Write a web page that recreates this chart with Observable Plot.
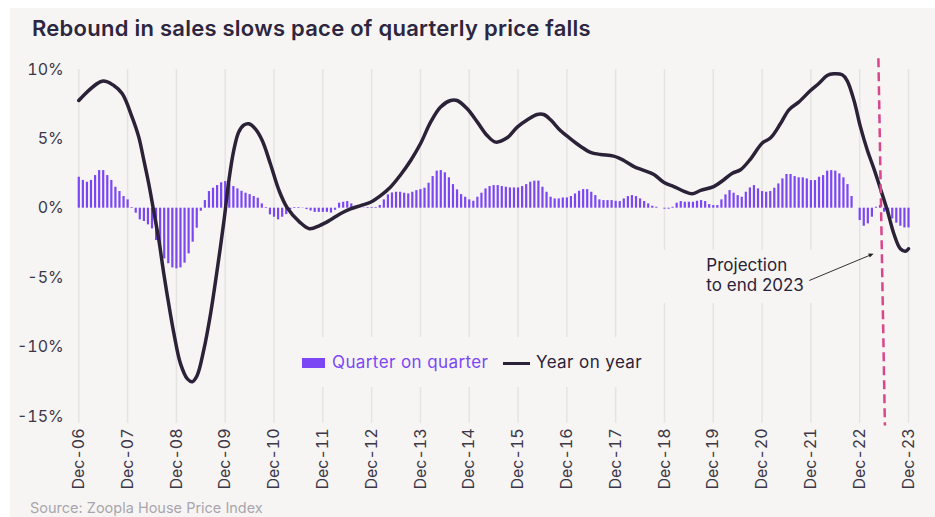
<!DOCTYPE html>
<html><head><meta charset="utf-8">
<script src="https://cdn.jsdelivr.net/npm/d3@7"></script>
<script src="https://cdn.jsdelivr.net/npm/@observablehq/plot@0.6"></script>
<style>
body{margin:0;background:#fff;width:935px;height:517px;overflow:hidden;position:relative;font-family:Inter,"Noto Sans",sans-serif;}
#panel{position:absolute;left:10px;top:8px;width:925px;height:509px;background:#f6f5f4;}
#title{position:absolute;left:32px;top:15px;font-size:22px;font-weight:600;color:#2d2640;white-space:nowrap;letter-spacing:0.25px;}
#chart{position:absolute;left:0;top:50px;}
#legend{position:absolute;left:292px;top:337px;width:360px;height:50px;background:#f6f5f4;font-size:17px;letter-spacing:0.4px;}
.sw{position:absolute;}
.lt{position:absolute;top:15px;line-height:20px;white-space:nowrap;}
#source{position:absolute;left:30px;top:499px;font-size:14.5px;line-height:17px;color:#a9a5ad;white-space:nowrap;}
</style></head>
<body>
<div id="panel"></div>
<div id="title">Rebound in sales slows pace of quarterly price falls</div>
<div id="chart"></div>
<div id="legend">
  <div class="sw" style="left:10px;top:21px;width:23px;height:10px;background:#7b47f5"></div>
  <div class="lt" style="left:40px;color:#7b47f5">Quarter on quarter</div>
  <div class="sw" style="left:211px;top:24.5px;width:27px;height:3px;background:#2b2238"></div>
  <div class="lt" style="left:244px;color:#2b2238">Year on year</div>
</div>
<div id="source">Source: Zoopla House Price Index</div>
<script>
// Months after Dec 2006 (0 = Dec-06 ... 204 = Dec-23)
const tickLabels = ["Dec-06","Dec-07","Dec-08","Dec-09","Dec-10","Dec-11","Dec-12","Dec-13","Dec-14","Dec-15","Dec-16","Dec-17","Dec-18","Dec-19","Dec-20","Dec-21","Dec-22","Dec-23"];
const tickMonths = [0,12,24,36,48,60,72,84,96,108,120,132,144,156,168,180,192,204];

// Quarter on quarter % change, monthly from Dec-06 to Dec-23
const qoq = [2.23,2.0,1.87,2.0,2.35,2.71,2.71,2.35,2.0,1.51,1.2,0.84,
0.6,0.05,-0.36,-0.84,-0.96,-1.2,-1.49,-2.33,-3.05,-3.65,-4.0,-4.3,
-4.37,-4.3,-3.96,-3.29,-2.45,-1.44,-0.22,0.55,1.2,1.44,1.63,1.83,
1.92,1.75,1.56,1.39,1.22,1.08,0.98,0.84,0.72,0.31,0.05,-0.48,
-0.65,-0.84,-0.65,-0.46,-0.1,0.05,0.05,0.02,-0.1,-0.2,-0.3,-0.3,
-0.3,-0.3,-0.35,-0.15,0.36,0.43,0.48,0.31,0.05,0.02,0.02,0.05,
0.05,0.05,0.2,0.6,0.96,1.1,1.15,1.15,1.08,1.03,1.15,1.27,
1.34,1.44,1.8,2.28,2.67,2.71,2.55,2.19,1.7,1.32,0.98,0.79,
0.6,0.5,0.79,1.08,1.39,1.56,1.63,1.63,1.56,1.51,1.46,1.46,
1.46,1.56,1.7,1.87,1.95,1.95,1.51,1.15,0.79,0.67,0.67,0.74,
0.74,0.84,1.03,1.22,1.34,1.34,1.15,0.91,0.6,0.55,0.55,0.55,
0.5,0.48,0.67,0.84,0.91,0.84,0.67,0.48,0.31,0.14,0.07,0.0,
-0.07,-0.07,0.07,0.36,0.48,0.43,0.43,0.43,0.5,0.55,0.48,0.26,
0.19,0.19,0.6,0.96,1.27,1.08,0.91,0.79,1.15,1.46,1.63,1.39,
1.2,1.15,1.2,1.44,1.75,2.11,2.43,2.43,2.28,2.19,2.19,2.11,
1.99,1.99,2.23,2.35,2.67,2.71,2.67,2.47,2.19,1.7,0.84,0.0,
-0.89,-1.3,-1.13,-0.65,0.07,0.19,-0.29,-0.48,-0.77,-1.08,-1.3,-1.42,
-1.42];

// Year on year % change, read at these months after Dec-06
const yoyMonth = [0,5.75,8.6,10.7,13.1,14.75,16,17.2,18.4,19.7,20.9,22.1,23.4,25,26.7,27.9,29.1,30.7,32.4,34,35.7,36.9,38.1,39.3,40.6,41.8,43.4,45.1,47.1,49.2,51.2,54.3,56.7,59.2,61.6,64.3,66.8,69.3,71.7,74.2,76.6,79,81.6,84,86.5,88.9,91.4,93,95.5,98,100.4,102.5,105.3,107.8,110.3,112.7,114.3,116,118.4,120.9,123.4,125.8,128.3,131.5,134,136.5,138.9,141.4,143.8,146.3,148.8,150.8,152.9,156.1,158.6,160.7,162.7,165.2,168,170.1,172.5,174.6,177,179.9,182,184,185.6,187.7,188.9,190.6,192.2,193.9,195.5,197.1,198.8,200.4,202,203.3,204];
const yoyValue = [7.76,9.15,8.84,8.24,6.56,5.12,3.44,1.76,-0.17,-2.33,-4.73,-6.89,-9.05,-11.2,-12.3,-12.5,-12.05,-10.25,-7.6,-4.49,-0.89,2.0,4.16,5.48,6.0,6.08,5.72,4.88,3.2,1.3,0.05,-1.0,-1.48,-1.25,-0.89,-0.4,-0.05,0.19,0.43,0.91,1.51,2.36,3.44,4.64,6.2,7.28,7.76,7.76,7.16,6.2,5.24,4.76,5.07,5.84,6.37,6.75,6.75,6.37,5.6,5.0,4.45,4.03,3.87,3.75,3.44,3.0,2.72,2.43,1.87,1.56,1.22,1.04,1.28,1.56,2.05,2.52,2.77,3.56,4.68,5.07,6.08,7.09,7.64,8.48,9.0,9.56,9.68,9.61,9.2,7.76,5.84,4.16,2.84,1.4,-0.17,-1.84,-2.92,-3.1,-2.92];

const yTicks = [-15,-10,-5,0,5,10];

// Projection marker (start of forecast) and annotation
const projection = [{m1:196.6, v1:10.8, m2:198.2, v2:-15.65}];
const noteLines = [{m:154.3, v:-4.13, text:"Projection"},{m:154.3, v:-5.55, text:"to end 2023"}];
const noteBox = [{m1:141.8, m2:184.8, v1:-3.05, v2:-6.87}];
const noteArrow = [{m1:179.6, v1:-5.21, m2:194.9, v2:-3.34}];

const bg = "#f6f5f4";
const qoqData = qoq.map((v,i)=>({m:i, v}));
const yoyData = yoyMonth.map((m,i)=>({m, v:yoyValue[i]}));

const chart = Plot.plot({
  width: 935, height: 467,
  marginLeft: 78.3, marginRight: 27, marginTop: 18.9, marginBottom: 101.1,
  style: {background: "transparent", fontFamily: "Inter, 'Noto Sans', sans-serif", fontSize: "16px", color: "#3d3848", overflow: "visible"},
  x: {domain: [0, 204], ticks: tickMonths, tickFormat: d => tickLabels[Math.round(d/12)], tickRotate: -90, tickSize: 0, tickPadding: 12, label: null},
  y: {domain: [-15, 10], ticks: yTicks, tickFormat: d => d + "%", tickSize: 0, tickPadding: 15, label: null},
  marks: [
    Plot.ruleX(tickMonths, {x: d => d, y1: -15.5, y2: 10, stroke: "#e6e4e3", strokeWidth: 1.5}),
    Plot.rect(noteBox, {x1: "m1", x2: "m2", y1: "v1", y2: "v2", fill: bg}),
    Plot.ruleX(qoqData, {x: "m", y1: 0, y2: "v", stroke: "#7b47f5", strokeWidth: 2.2}),
    Plot.line(yoyData, {x: "m", y: "v", stroke: "#2b2238", strokeWidth: 3.5, curve: "catmull-rom", strokeLinejoin: "round", strokeLinecap: "round"}),
    Plot.link(projection, {x1: "m1", y1: "v1", x2: "m2", y2: "v2", stroke: "#d9468c", strokeWidth: 2.5, strokeDasharray: "9,5"}),
    Plot.link(noteArrow, {x1: "m1", y1: "v1", x2: "m2", y2: "v2", stroke: "#333", strokeWidth: 1, markerEnd: "arrow"}),
    Plot.text(noteLines, {x: "m", y: "v", text: "text", textAnchor: "start", fontSize: 17, fill: "#2b2238"})
  ]
});
document.getElementById("chart").appendChild(chart);
// make the arrow head a filled triangle
d3.select(chart).selectAll("marker path").attr("d", "M-4,-3.2L3.5,0L-4,3.2Z").attr("fill", "#222").attr("stroke", "none");
</script>
</body></html>
